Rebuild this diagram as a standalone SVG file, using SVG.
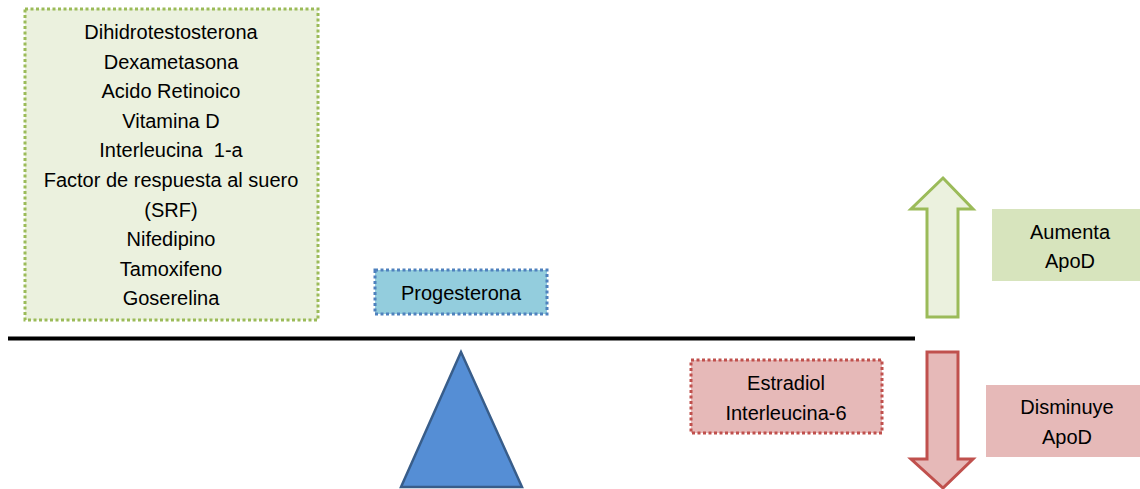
<svg xmlns="http://www.w3.org/2000/svg" width="1140" height="489" viewBox="0 0 1140 489">
<style>
text{font-family:"Liberation Sans",Arial,sans-serif;font-size:20px;fill:#000;text-anchor:middle}
.dot{stroke-width:3;stroke-dasharray:3 2.5}
</style>
<rect width="1140" height="489" fill="#fff"/>
<g id="balance">
<line x1="8" y1="338.5" x2="915" y2="338.5" stroke="#000" stroke-width="4"/>
<polygon points="461,352 401,487 522,487" fill="#558ED5" stroke="#385D8A" stroke-width="2.5"/>
</g>
<g id="node-aumentan">
<rect x="25" y="9" width="293" height="311" fill="#EBF1DE" stroke="#9BBB59" class="dot"/>
<text x="171" y="39">Dihidrotestosterona</text>
<text x="171" y="68.6">Dexametasona</text>
<text x="171" y="98.2">Acido Retinoico</text>
<text x="171" y="127.8">Vitamina D</text>
<text x="171" y="157.4" xml:space="preserve">Interleucina  1-a</text>
<text x="171" y="187">Factor de respuesta al suero</text>
<text x="171" y="216.6">(SRF)</text>
<text x="171" y="246.2">Nifedipino</text>
<text x="171" y="275.8">Tamoxifeno</text>
<text x="171" y="305.4">Goserelina</text>
</g>
<g id="node-progesterona">
<rect x="375" y="270" width="172" height="44" fill="#93CDDD" stroke="#4F81BD" class="dot"/>
<text x="461" y="300">Progesterona</text>
</g>
<g id="node-estradiol">
<rect x="691" y="360" width="191" height="73" fill="#E6B9B8" stroke="#C0504D" class="dot"/>
<text x="786" y="390">Estradiol</text>
<text x="786" y="420">Interleucina-6</text>
</g>
<g id="connectors">
<polygon points="943,178 973,209 958,209 958,317 927,317 927,209 911,209" fill="#EBF1DE" stroke="#9BBB59" stroke-width="3"/>
<polygon points="927,352 958,352 958,459 973,459 943,488 911,459 927,459" fill="#E6B9B8" stroke="#C0504D" stroke-width="3"/>
</g>
<g id="node-aumenta">
<rect x="992" y="209" width="148" height="72" fill="#D7E4BD"/>
<text x="1070" y="239">Aumenta</text>
<text x="1070" y="268">ApoD</text>
</g>
<g id="node-disminuye">
<rect x="986" y="385" width="154" height="72" fill="#E6B9B8"/>
<text x="1067" y="414">Disminuye</text>
<text x="1067" y="444">ApoD</text>
</g>
</svg>
